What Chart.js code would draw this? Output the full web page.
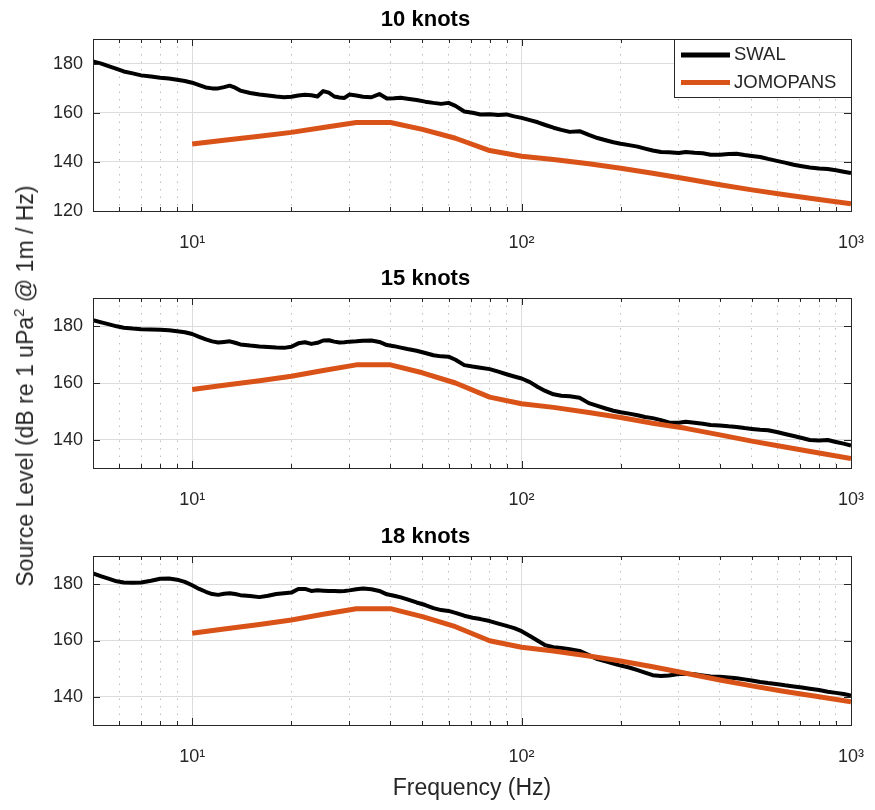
<!DOCTYPE html>
<html>
<head>
<meta charset="utf-8">
<script src="https://cdn.jsdelivr.net/npm/chart.js@4.4.0/dist/chart.umd.min.js"></script>
<style>
html,body{margin:0;padding:0;background:#fff;}
#wrap{position:relative;width:875px;height:810px;overflow:hidden;font-family:"Liberation Sans",Arial,Helvetica,sans-serif;}
canvas{position:absolute;left:0;}
#ytitle{position:absolute;left:25px;top:386px;transform:translate(-50%,-50%) rotate(-90deg);white-space:nowrap;font-size:23px;color:#262626;line-height:26px;}
#ytitle sup{font-size:0.66em;line-height:0;vertical-align:0.62em;}
</style>
</head>
<body>
<div id="wrap">
<canvas id="c1" width="875" height="260" style="top:0px"></canvas>
<canvas id="c2" width="875" height="258" style="top:259px"></canvas>
<canvas id="c3" width="875" height="293" style="top:517px"></canvas>
<div id="ytitle">Source Level (dB re 1 uPa<sup>2</sup> @ 1m / Hz)</div>
</div>
<script>
// ---------- data ----------
const titles = ['10 knots', '15 knots', '18 knots'];
const seriesNames = ['SWAL', 'JOMOPANS'];
const xTitle = 'Frequency (Hz)';

const swalFreq = [5, 5.3, 5.6, 5.9, 6.2, 6.6, 7, 7.5, 8, 8.5, 9, 9.5, 10, 10.5, 11, 11.5, 12, 12.5, 13, 13.5,
  14, 15, 16, 17, 18, 19, 20, 21, 22, 23, 24, 25, 26, 27, 28, 29, 30, 31.5, 33, 35,
  37, 39, 41, 43, 45, 48, 51, 54, 57, 60, 63, 67, 71, 75, 80, 85, 90, 95, 100, 106,
  112, 118, 125, 132, 140, 150, 160, 170, 180, 190, 200, 212, 225, 237, 250, 265, 280, 300, 315, 335,
  355, 375, 400, 425, 450, 475, 500, 530, 560, 600, 630, 670, 710, 750, 800, 850, 900, 950, 1000];

const swal10 = [180.9, 180.0, 178.9, 177.8, 176.8, 176.0, 175.2, 174.7, 174.2, 173.9, 173.4, 172.9, 172.2, 171.2, 170.3, 169.9, 169.9, 170.4, 171.0, 170.2,
  169.0, 168.0, 167.4, 167.0, 166.6, 166.3, 166.5, 167.0, 167.3, 167.1, 166.6, 168.8, 168.2, 166.6, 166.2, 166.0, 167.4, 167.0, 166.5, 166.3,
  167.6, 165.8, 165.9, 166.1, 165.7, 165.2, 164.5, 164.0, 163.6, 164.0, 162.8, 160.5, 160.0, 159.3, 159.4, 159.1, 159.3, 158.5, 157.9, 157.0,
  156.1, 155.0, 153.9, 153.0, 152.2, 152.5, 151.0, 149.7, 148.8, 148.0, 147.4, 146.8, 146.2, 145.4, 144.6, 144.0, 143.9, 143.6, 144.0, 143.7,
  143.5, 142.9, 142.9, 143.2, 143.3, 142.8, 142.4, 142.0, 141.2, 140.3, 139.7, 138.8, 138.2, 137.7, 137.3, 137.1, 136.6, 136.0, 135.4];

const swal15 = [182.2, 181.4, 180.7, 180.0, 179.5, 179.2, 179.0, 178.9, 178.8, 178.6, 178.3, 177.9, 177.3, 176.3, 175.4, 174.7, 174.3, 174.5, 174.7, 174.2,
  173.6, 173.2, 172.9, 172.7, 172.5, 172.4, 172.8, 174.0, 174.4, 173.8, 174.2, 175.0, 175.1, 174.6, 174.3, 174.4, 174.6, 174.7, 174.9, 175.0,
  174.5, 173.4, 173.0, 172.5, 172.0, 171.4, 170.6, 169.8, 169.4, 169.3, 168.2, 166.3, 165.8, 165.4, 164.9, 164.0, 163.1, 162.3, 161.6, 160.3,
  158.6, 157.2, 156.0, 155.5, 155.3, 154.8, 152.9, 151.9, 151.0, 150.2, 149.7, 149.2, 148.6, 148.0, 147.6, 146.9, 146.1, 146.0, 146.3, 146.0,
  145.6, 145.2, 145.0, 144.7, 144.5, 144.1, 143.8, 143.5, 143.3, 142.6, 142.0, 141.3, 140.6, 139.9, 139.7, 139.9, 139.2, 138.6, 137.9];

const swal18 = [183.8, 182.8, 181.9, 181.0, 180.6, 180.5, 180.6, 181.2, 181.9, 182.0, 181.6, 180.8, 179.6, 178.3, 177.3, 176.5, 176.2, 176.6, 176.8, 176.5,
  176.1, 175.8, 175.4, 175.9, 176.5, 176.8, 177.0, 178.3, 178.3, 177.6, 177.8, 177.7, 177.6, 177.6, 177.5, 177.6, 177.8, 178.2, 178.5, 178.2,
  177.6, 176.4, 175.9, 175.3, 174.6, 173.5, 172.6, 171.5, 170.8, 170.5, 169.8, 168.8, 168.1, 167.6, 166.9, 166.0, 165.2, 164.4, 163.3, 161.6,
  159.9, 158.3, 157.6, 157.3, 156.9, 156.3, 154.8, 153.4, 152.6, 151.8, 151.1, 150.4, 149.5, 148.6, 147.7, 147.4, 147.6, 148.1, 148.2, 148.0,
  147.6, 147.2, 147.1, 146.9, 146.6, 146.2, 145.8, 145.3, 144.9, 144.5, 144.1, 143.7, 143.3, 142.9, 142.4, 141.8, 141.4, 141.0, 140.5];

const jomoFreq = [10, 12.5, 16, 20, 25, 31.5, 40, 50, 63, 80, 100, 125, 160, 200, 250, 315, 400, 500, 630, 800, 1000];
const jomo10 = [147.3, 148.8, 150.4, 152.0, 154.0, 156.0, 156.0, 153.2, 149.6, 144.6, 142.3, 141.0, 139.2, 137.4, 135.4, 133.1, 130.7, 128.6, 126.6, 124.7, 122.9];
const jomo15 = [157.7, 159.2, 160.8, 162.4, 164.4, 166.4, 166.4, 163.6, 160.0, 155.0, 152.7, 151.4, 149.6, 147.8, 145.8, 144.0, 141.7, 139.5, 137.4, 135.3, 133.3];
const jomo18 = [162.6, 164.1, 165.7, 167.3, 169.3, 171.3, 171.3, 168.5, 164.9, 159.9, 157.6, 156.3, 154.5, 152.7, 150.7, 148.4, 146.0, 143.9, 141.9, 140.0, 138.2];

const xMajorTicks = [10, 100, 1000];
const xMinorTicks = [6, 7, 8, 9, 20, 30, 40, 50, 60, 70, 80, 90, 200, 300, 400, 500, 600, 700, 800, 900];
const yTicksTop = [120, 140, 160, 180];
const yTicksLower = [140, 160, 180];
const xRange = [5, 1000];
const yRangeTop = [120, 190];
const yRangeLower = [130, 190];

// ---------- drawing ----------
const FONT = '"Liberation Sans", Arial, Helvetica, sans-serif';
const SUP = {'1': '\u00B9', '2': '\u00B2', '3': '\u00B3'};
const allXTicks = xMajorTicks.concat(xMinorTicks).sort((a, b) => a - b);
const isMajor = v => xMajorTicks.indexOf(v) >= 0;

const frame = {
  id: 'frame',
  afterDatasetsDraw(chart) {
    const {ctx, chartArea: a, scales} = chart;
    ctx.save();
    ctx.strokeStyle = '#262626';
    ctx.lineWidth = 1;
    ctx.beginPath();
    allXTicks.forEach(v => {
      const len = isMajor(v) ? 7 : 4;
      const px = Math.round(scales.x.getPixelForValue(v)) + 0.5;
      ctx.moveTo(px, a.bottom); ctx.lineTo(px, a.bottom - len);
      ctx.moveTo(px, a.top); ctx.lineTo(px, a.top + len);
    });
    scales.y.ticks.forEach(t => {
      const py = Math.round(scales.y.getPixelForValue(t.value)) + 0.5;
      ctx.moveTo(a.left, py); ctx.lineTo(a.left + 7, py);
      ctx.moveTo(a.right, py); ctx.lineTo(a.right - 7, py);
    });
    ctx.stroke();
    ctx.strokeRect(Math.round(a.left) + 0.5, Math.round(a.top) + 0.5,
      Math.round(a.right - a.left), Math.round(a.bottom - a.top));
    ctx.restore();
  }
};

const boxLegend = {
  id: 'boxLegend',
  afterDraw(chart, args, opts) {
    if (!opts.show) return;
    const {ctx, chartArea: a} = chart;
    const w = 177, h = 58;
    const x0 = Math.round(a.right) - w, y0 = Math.round(a.top);
    ctx.save();
    ctx.fillStyle = '#fff';
    ctx.fillRect(x0, y0, w, h);
    ctx.strokeStyle = '#262626';
    ctx.lineWidth = 1;
    ctx.strokeRect(x0 + 0.5, y0 + 0.5, w, h);
    ctx.font = '18.5px ' + FONT;
    ctx.textBaseline = 'middle';
    ctx.textAlign = 'left';
    chart.data.datasets.forEach((ds, i) => {
      const y = y0 + 16 + i * 27.5;
      ctx.strokeStyle = ds.borderColor;
      ctx.lineWidth = 5;
      ctx.beginPath();
      ctx.moveTo(x0 + 7, y); ctx.lineTo(x0 + 56, y);
      ctx.stroke();
      ctx.fillStyle = '#262626';
      ctx.fillText(ds.label, x0 + 60, y);
    });
    ctx.restore();
  }
};

function makeChart(id, idx, swalVals, jomoVals, yTicks, yRange, isBottom, showLegend) {
  return new Chart(document.getElementById(id), {
    type: 'line',
    data: {
      datasets: [
        {label: seriesNames[0], data: swalFreq.map((f, i) => ({x: f, y: swalVals[i]})),
          borderColor: '#000000', borderWidth: 4, pointRadius: 0, tension: 0, order: 1, borderJoinStyle: 'round'},
        {label: seriesNames[1], data: jomoFreq.map((f, i) => ({x: f, y: jomoVals[i]})),
          borderColor: '#D95319', borderWidth: 5, pointRadius: 0, tension: 0, order: 0, borderJoinStyle: 'round'}
      ]
    },
    options: {
      responsive: false, animation: false, devicePixelRatio: 1,
      layout: {padding: {left: 0, right: 24, top: 0, bottom: 0}},
      plugins: {
        legend: {display: false},
        tooltip: {enabled: false},
        title: {display: true, text: titles[idx], color: '#000000',
          font: {family: FONT, size: 22, weight: 'bold'}, padding: {top: 7, bottom: 5.6}},
        boxLegend: {show: showLegend}
      },
      scales: {
        x: {
          type: 'logarithmic', position: 'bottom', min: xRange[0], max: xRange[1],
          afterBuildTicks: s => { s.ticks = allXTicks.map(v => ({value: v, major: isMajor(v)})); },
          afterFit: s => { s.height = isBottom ? 85 : 49; s.paddingLeft = 0; s.paddingRight = 0; },
          grid: {
            color: c => isMajor(c.tick.value) ? '#dcdcdc' : '#bdbdbd',
            lineWidth: 1, drawTicks: false
          },
          border: {display: false, dash: c => isMajor(c.tick.value) ? [] : [1.5, 6]},
          ticks: {
            autoSkip: false, maxRotation: 0, minRotation: 0, padding: 21, color: '#262626',
            font: {family: FONT, size: 18},
            callback: v => isMajor(v) ? '10' + SUP[String(Math.round(Math.log10(v)))] : ''
          },
          title: {display: isBottom, text: xTitle, color: '#262626',
            font: {family: FONT, size: 23}, padding: {top: 0, bottom: 8}}
        },
        y: {
          type: 'linear', min: yRange[0], max: yRange[1],
          afterBuildTicks: s => { s.ticks = yTicks.map(v => ({value: v})); },
          afterFit: s => { s.width = 93; s.paddingTop = 0; s.paddingBottom = 0; },
          grid: {color: '#dcdcdc', lineWidth: 1, drawTicks: false},
          border: {display: false},
          ticks: {padding: 10, color: '#262626', font: {family: FONT, size: 18}}
        }
      }
    },
    plugins: [frame, boxLegend]
  });
}

makeChart('c1', 0, swal10, jomo10, yTicksTop, yRangeTop, false, true);
makeChart('c2', 1, swal15, jomo15, yTicksLower, yRangeLower, false, false);
makeChart('c3', 2, swal18, jomo18, yTicksLower, yRangeLower, true, false);
</script>
</body>
</html>
